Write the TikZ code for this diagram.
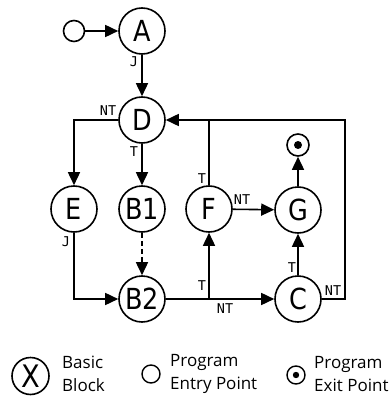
\documentclass[tikz,border=0pt]{standalone}
\usepackage{fontspec}
\setmainfont{Open Sans}
\newfontfamily\monofont{DejaVu Sans Mono}
\newfontfamily\nodefont[FakeStretch=0.88]{DejaVu Sans}
\usetikzlibrary{arrows.meta}
\begin{document}
\begin{tikzpicture}[x=1pt,y=-1pt,
  bb/.style={circle,draw,line width=1.6pt,minimum size=46pt,inner sep=0pt,font=\nodefont\fontsize{29}{29}\selectfont},
  entry/.style={circle,draw,line width=1.6pt,minimum size=21pt,inner sep=0pt},
  exitpt/.style={circle,draw,line width=1.6pt,minimum size=22pt,inner sep=0pt},
  edge/.style={line width=1.6pt,-{Triangle[length=13pt,width=12pt]}},
  plain/.style={line width=1.6pt},
  lbl/.style={font=\monofont\fontsize{13.5}{13.5}\selectfont,inner sep=0pt},
  legtext/.style={align=left,anchor=west,inner sep=0pt,font=\fontsize{17}{23}\selectfont}]
\useasboundingbox (0,0) rectangle (390,396);
\node[entry] (in) at (74,31) {};
\node[bb] (A) at (142,31) {A};
\node[bb] (D) at (142,120) {D};
\node[bb] (E) at (74,209) {E};
\node[bb] (B1) at (142,209) {B1};
\node[bb] (F) at (209,209) {F};
\node[bb] (G) at (298,210) {G};
\node[bb] (B2) at (142,299) {B2};
\node[bb] (C) at (298,299) {C};
\node[exitpt] (out) at (298,145) {};
\fill (out.center) circle (4pt);
\coordinate (fu) at (209,120);
\coordinate (cr) at (345,299);
\coordinate (cu) at (345,120);
\draw[edge] (in) -- (A);
\draw[edge] (A) -- (D);
\draw[edge] (D.west) -| (E.north);
\draw[edge] (D) -- (B1);
\draw[edge,dash pattern=on 5pt off 3pt] (B1) -- (B2);
\draw[edge] (E.south) |- (B2.west);
\draw[edge] (B2.east) -| (F.south);
\draw[edge] (B2) -- (C);
\draw[plain] (F.north) -- (fu);
\draw[edge] (C.east) -- (cr) -- (cu) -- (D.east);
\draw[edge] (C) -- (G);
\draw[edge] (F) -- (G);
\draw[edge] (G) -- (out);
\node[lbl] at (134,62) {J};
\node[lbl] at (108,111) {NT};
\node[lbl] at (134,152) {T};
\node[lbl] at (66,242) {J};
\node[lbl] at (202,286) {T};
\node[lbl] at (225,309) {NT};
\node[lbl] at (202,179) {T};
\node[lbl] at (242,200) {NT};
\node[lbl] at (292,268) {T};
\node[lbl] at (333,291) {NT};
% legend
\node[circle,draw,line width=1.6pt,minimum size=37pt,inner sep=0pt,font=\nodefont\fontsize{31}{31}\selectfont] (lx) at (30.5,376) {X};
\node[legtext] (lt1) at (62,374) {Basic\\Block};
\node[circle,draw,line width=1.4pt,minimum size=18pt,inner sep=0pt] (le) at (151,374) {};
\node[legtext] (lt2) at (170,374) {Program\\Entry Point};
\node[circle,draw,line width=1.4pt,minimum size=18pt,inner sep=0pt] (lo) at (296,375) {};
\fill (lo.center) circle (3.2pt);
\node[legtext] (lt3) at (314,374) {Program\\Exit Point};
\end{tikzpicture}
\end{document}
